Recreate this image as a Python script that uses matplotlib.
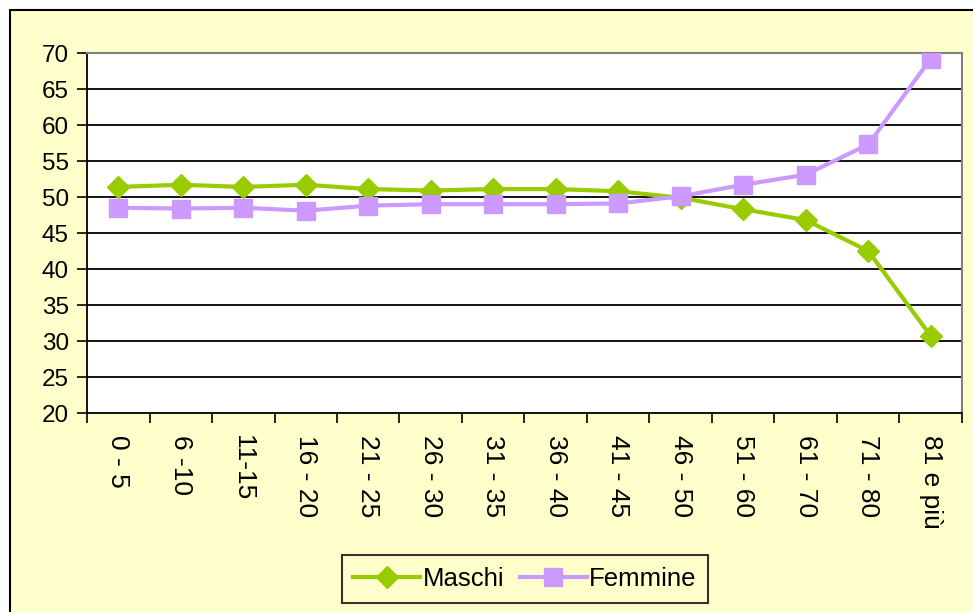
import matplotlib
matplotlib.use("Agg")
import matplotlib.pyplot as plt
from matplotlib.patches import Rectangle
from matplotlib.lines import Line2D

categories = ["0 - 5", "6 -10", "11-15", "16 - 20", "21 - 25", "26 - 30", "31 - 35",
              "36 - 40", "41 - 45", "46 - 50", "51 - 60", "61 - 70", "71 - 80", "81 e più"]
maschi = [51.4, 51.7, 51.4, 51.7, 51.1, 50.9, 51.1, 51.1, 50.8, 49.9, 48.3, 46.8, 42.5, 30.7]
femmine = [48.5, 48.4, 48.5, 48.1, 48.8, 49.0, 49.0, 49.0, 49.1, 50.1, 51.7, 53.1, 57.3, 69.2]
yticks = [20, 25, 30, 35, 40, 45, 50, 55, 60, 65, 70]

plt.rcParams['font.family'] = ['Liberation Sans', 'DejaVu Sans']

W, H = 973, 612
fig = plt.figure(figsize=(W / 100, H / 100), dpi=100)
fig.patch.set_facecolor("white")
bg = "#FFFFCC"
fig.patches.append(Rectangle((10 / W, -0.05), 1.2, (H - 10) / H + 0.05, transform=fig.transFigure,
                             facecolor=bg, edgecolor="black", linewidth=1.5, zorder=-10))

ax = fig.add_axes([87 / W, (H - 413) / H, (962 - 87) / W, (413 - 53) / H])
ax.set_zorder(1)
ax.set_facecolor("white")
x = list(range(len(categories)))
green = "#99CC00"
purple = "#CC99FF"
ax.plot(x, maschi, color=green, lw=3, marker="D", ms=11, zorder=3, label="Maschi")
ax.plot(x, femmine, color=purple, lw=3, marker="s", ms=13, zorder=3, label="Femmine")

ax.set_xlim(-0.5, len(categories) - 0.5)
ax.set_ylim(20, 70)
ax.set_yticks(yticks)
ax.set_yticklabels([str(v) for v in yticks], fontsize=17.5)
for v in yticks[1:-1]:
    ax.axhline(v, color="black", lw=1.3, zorder=1)

ax.set_xticks(x)
ax.set_xticklabels(categories, rotation=270, fontsize=19, va="top", ha="center")
ax.set_xticks([i - 0.5 for i in range(len(categories) + 1)], minor=True)
ax.tick_params(axis="x", which="major", length=0, pad=16)
ax.tick_params(axis="x", which="minor", length=7, width=1.2, direction="out", color="black")
ax.tick_params(axis="y", length=7, width=1.2, direction="out", pad=6)

for s in ["top", "right"]:
    ax.spines[s].set_color("#808080")
    ax.spines[s].set_linewidth(1.5)
for s in ["left", "bottom"]:
    ax.spines[s].set_color("black")
    ax.spines[s].set_linewidth(1.3)

handles = [Line2D([0], [0], color=green, lw=3, marker="D", ms=11),
           Line2D([0], [0], color=purple, lw=3, marker="s", ms=13)]
leg = fig.legend(handles, ["Maschi", "Femmine"], loc="center", bbox_to_anchor=(525 / W, 1 - 579 / H),
                 ncol=2, fontsize=18.5, frameon=True, fancybox=False, handlelength=2.6,
                 columnspacing=0.6, handletextpad=0.1, borderpad=0.45)
leg.get_frame().set_facecolor(bg)
leg.get_frame().set_edgecolor("black")
leg.get_frame().set_linewidth(1.5)

fig.savefig("out.png", dpi=100, facecolor=fig.get_facecolor())
